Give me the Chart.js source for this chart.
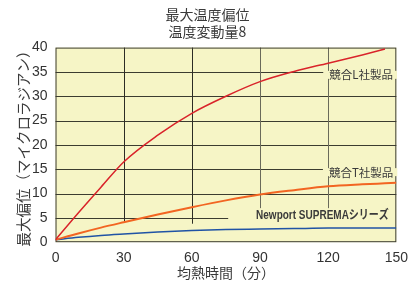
<!DOCTYPE html>
<html>
<head>
<meta charset="utf-8">
<script src="https://cdn.jsdelivr.net/npm/chart.js@4/dist/chart.umd.min.js"></script>
<style>
  html, body { margin: 0; padding: 0; background: #fff; }
  #wrap { width: 417px; height: 284px; }
</style>
</head>
<body>
<div id="wrap"><canvas id="chart"></canvas></div>
<script>
// datos (minutos, microradianes)
const minutos = [0, 10, 20, 30, 45, 60, 75, 90, 105, 120, 135, 145, 150];
const competidorL = [0.5, 6.0, 11.3, 16.5, 22, 26.5, 30, 33, 35.1, 36.8, 38.5, 39.7, null];
const competidorT = [0.5, 1.8, 3.0, 4.1, 5.7, 7.2, 8.6, 9.8, 10.7, 11.5, 11.9, 12.1, 12.2];
const suprema = [0.5, 1.0, 1.4, 1.7, 2.1, 2.4, 2.6, 2.7, 2.8, 2.9, 2.9, 2.9, 2.9];
const xTicks = [0, 30, 60, 90, 120, 150];
const yTicks = [0, 5, 10, 15, 20, 25, 30, 35, 40];

const toXY = (ys) => minutos.map((m, i) => ({ x: m, y: ys[i] }));
const FONDO = '#f6f5c6';

// fondo amarillo y reticula (algunas lineas cortadas como en el original)
const reticula = {
  id: 'reticula',
  beforeDatasetsDraw(chart) {
    const { ctx, chartArea: a, scales: { x, y } } = chart;
    ctx.save();
    ctx.fillStyle = FONDO;
    ctx.fillRect(a.left, a.top, a.right - a.left, a.bottom - a.top);
    ctx.lineWidth = 1;
    ctx.strokeStyle = '#3c3c30';
    const finH = { 5: 76 };
    yTicks.slice(1, -1).forEach(v => {
      const py = Math.round(y.getPixelForValue(v)) + 0.5;
      ctx.beginPath();
      ctx.moveTo(a.left, py);
      ctx.lineTo(x.getPixelForValue(finH[v] ?? 150), py);
      ctx.stroke();
    });
    const finV = { 30: 4, 60: 3.8, 90: 7, 120: 7 };
    xTicks.slice(1, -1).forEach(v => {
      const px = Math.round(x.getPixelForValue(v)) + 0.5;
      ctx.strokeStyle = v >= 90 ? '#6a6a5a' : '#2c2c24';
      ctx.beginPath();
      ctx.moveTo(px, a.top);
      ctx.lineTo(px, y.getPixelForValue(finV[v]));
      ctx.stroke();
    });
    ctx.strokeStyle = '#3c3c30';
    ctx.strokeRect(a.left + 0.5, a.top + 0.5, a.right - a.left - 1, a.bottom - a.top - 1);
    ctx.restore();
  }
};

// etiquetas dentro del grafico
const etiquetas = {
  id: 'etiquetas',
  afterDatasetsDraw(chart) {
    const { ctx, scales: { x, y } } = chart;
    const items = [
      { t: '競合L社製品', mx: 134.5, my: 34.4, f: '11.5px "Noto Sans CJK JP"', fondo: true, sx: 1 },
      { t: '競合T社製品', mx: 134.5, my: 14.4, f: '11.5px "Noto Sans CJK JP"', fondo: true, sx: 1 },
      { t: 'Newport SUPREMAシリーズ', mx: 117.5, my: 5.4, f: 'bold 12.5px "Liberation Sans", "Noto Sans CJK JP"', fondo: false, sx: 0.8 }
    ];
    ctx.save();
    ctx.textAlign = 'center';
    ctx.textBaseline = 'middle';
    items.forEach(it => {
      ctx.font = it.f;
      const px = x.getPixelForValue(it.mx), py = y.getPixelForValue(it.my);
      const w = ctx.measureText(it.t).width;
      if (it.fondo) {
        ctx.fillStyle = FONDO;
        ctx.fillRect(px - w / 2 - 6, py - 4, w + 10, 8);
      }
      ctx.fillStyle = '#3a3a3a';
      ctx.save();
      ctx.translate(px, py);
      ctx.scale(it.sx, 1);
      ctx.fillText(it.t, 0, 0);
      ctx.restore();
    });
    ctx.restore();
  }
};

new Chart(document.getElementById('chart'), {
  type: 'line',
  data: {
    datasets: [
      { label: '競合L社製品', data: toXY(competidorL), borderColor: '#d9232a', borderWidth: 1.5, pointRadius: 0, cubicInterpolationMode: 'monotone' },
      { label: '競合T社製品', data: toXY(competidorT), borderColor: '#f26522', borderWidth: 2, pointRadius: 0, cubicInterpolationMode: 'monotone' },
      { label: 'Newport SUPREMAシリーズ', data: toXY(suprema), borderColor: '#2053a5', borderWidth: 1.5, pointRadius: 0, cubicInterpolationMode: 'monotone' }
    ]
  },
  options: {
    responsive: true,
    maintainAspectRatio: false,
    animation: false,
    layout: { padding: { left: 16, right: 18, top: 2, bottom: 3 } },
    plugins: {
      legend: { display: false },
      tooltip: { enabled: false },
      title: {
        display: true,
        text: ['最大温度偏位', '温度変動量8'],
        color: '#3a3a3a',
        font: { family: '"Noto Sans CJK JP"', size: 14, weight: 'normal', lineHeight: 1.2 },
        padding: { top: 4, bottom: 8 }
      }
    },
    scales: {
      x: {
        type: 'linear', min: 0, max: 150,
        afterBuildTicks: (s) => { s.ticks = xTicks.map(v => ({ value: v })); },
        grid: { display: false, drawTicks: false },
        border: { display: false },
        ticks: { color: '#333', padding: 9, font: { family: '"Liberation Sans Narrow", "Liberation Sans"', size: 14, lineHeight: 1 } },
        title: { display: true, text: '均熱時間（分）', color: '#3a3a3a', font: { family: '"Noto Sans CJK JP"', size: 14, lineHeight: 1.2 }, padding: { top: -10, bottom: 0 } }
      },
      y: {
        min: 0, max: 40,
        afterBuildTicks: (s) => { s.ticks = yTicks.map(v => ({ value: v })); },
        grid: { display: false, drawTicks: false },
        border: { display: false },
        ticks: { color: '#333', padding: 8, font: { family: '"Liberation Sans Narrow", "Liberation Sans"', size: 14, lineHeight: 1 } },
        title: { display: true, text: '最大偏位（マイクロラジアン）', color: '#3a3a3a', font: { family: '"Noto Sans CJK JP"', size: 14.5, lineHeight: 1.1 }, padding: { top: 0, bottom: -8 } }
      }
    }
  },
  plugins: [reticula, etiquetas]
});
</script>
</body>
</html>
